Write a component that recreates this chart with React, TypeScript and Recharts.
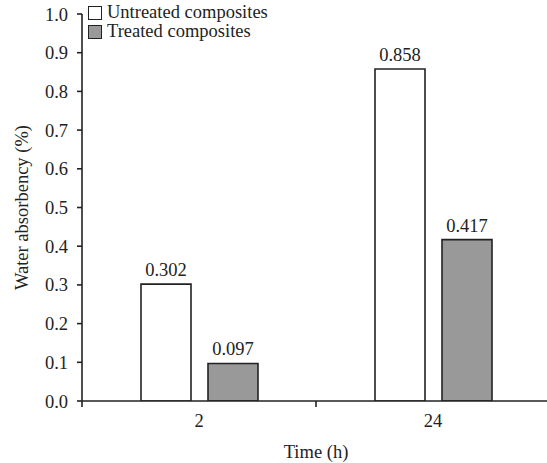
import React from "react";
import { BarChart, Bar, XAxis, YAxis, LabelList, Label } from "recharts";

const categories = ["2", "24"];
const untreated = [0.302, 0.858];
const treated = [0.097, 0.417];
const yTicks = [0, 0.1, 0.2, 0.3, 0.4, 0.5, 0.6, 0.7, 0.8, 0.9, 1.0];
const seriesNames = ["Untreated composites", "Treated composites"];

const data = categories.map((c, i) => ({ time: c, untreated: untreated[i], treated: treated[i] }));

const FONT = "'Liberation Serif', 'Times New Roman', serif";
const FS = 18.5;
const INK = "#222";
const GRAY = "#999999";

const XTick = (props: any) => {
  const { x, y, payload, index, width, visibleTicksCount } = props;
  const half = width && visibleTicksCount ? width / visibleTicksCount / 2 : 117;
  const axisY = y - 13;
  return (
    <g>
      <line x1={x - half} x2={x - half} y1={axisY} y2={axisY + 6} stroke={INK} strokeWidth={1.6} />
      {index === visibleTicksCount - 1 && (
        <line x1={x + half} x2={x + half} y1={axisY} y2={axisY + 6} stroke={INK} strokeWidth={1.6} />
      )}
      <text x={x} y={y} dy="0.71em" textAnchor="middle" fontFamily={FONT} fontSize={FS} fill={INK}>
        {payload.value}
      </text>
    </g>
  );
};

const LegendBox = () => (
  <div
    style={{
      position: "absolute",
      left: 88,
      top: 3,
      fontFamily: FONT,
      fontSize: FS,
      color: INK,
      lineHeight: "19px",
    }}
  >
    {seriesNames.map((name, i) => (
      <div key={name} style={{ display: "flex", alignItems: "center" }}>
        <span
          style={{
            display: "inline-block",
            boxSizing: "border-box",
            width: 14,
            height: 14,
            background: i === 0 ? "#ffffff" : GRAY,
            border: `1.6px solid ${INK}`,
            marginRight: 5,
          }}
        />
        <span>{name}</span>
      </div>
    ))}
  </div>
);

export default function App() {
  return (
    <div style={{ position: "absolute", left: 0, top: 0, width: 547, height: 463, overflow: "hidden", background: "#fff" }}>
      <BarChart
        width={550}
        height={463}
        data={data}
        margin={{ top: 14, right: 0, bottom: 0, left: 0 }}
        barSize={50}
        barGap={17}
      >
        <XAxis
          dataKey="time"
          height={62}
          axisLine={{ stroke: INK, strokeWidth: 1.6 }}
          tickLine={false}
          tickSize={6}
          tickMargin={7}
          tick={<XTick />}
          interval={0}
        >
          <Label value="Time (h)" position="insideBottom" offset={5} fontFamily={FONT} fontSize={FS} fill={INK} />
        </XAxis>
        <YAxis
          width={82}
          domain={[0, 1]}
          ticks={yTicks}
          tickFormatter={(v: number) => v.toFixed(1)}
          axisLine={{ stroke: INK, strokeWidth: 1.6 }}
          tickLine={{ stroke: INK, strokeWidth: 1.6 }}
          tickSize={5}
          tickMargin={9}
          tick={{ fontFamily: FONT, fontSize: FS, fill: INK }}
          allowDataOverflow
        >
          <Label
            content={(p: any) => {
              const vb = p.viewBox || { y: 14, height: 387 };
              const cy = vb.y + vb.height / 2;
              return (
                <text
                  x={22}
                  y={cy}
                  transform={`rotate(-90 22 ${cy})`}
                  textAnchor="middle"
                  dominantBaseline="central"
                  fontFamily={FONT}
                  fontSize={FS}
                  fill={INK}
                >
                  Water absorbency (%)
                </text>
              );
            }}
          />
        </YAxis>
        <Bar dataKey="untreated" name={seriesNames[0]} fill="#ffffff" stroke={INK} strokeWidth={1.6} isAnimationActive={false}>
          <LabelList dataKey="untreated" position="top" offset={8} formatter={(v: number) => v.toFixed(3)} fontFamily={FONT} fontSize={FS} fill={INK} />
        </Bar>
        <Bar dataKey="treated" name={seriesNames[1]} fill={GRAY} stroke={INK} strokeWidth={1.6} isAnimationActive={false}>
          <LabelList dataKey="treated" position="top" offset={8} formatter={(v: number) => v.toFixed(3)} fontFamily={FONT} fontSize={FS} fill={INK} />
        </Bar>
      </BarChart>
      <LegendBox />
    </div>
  );
}
